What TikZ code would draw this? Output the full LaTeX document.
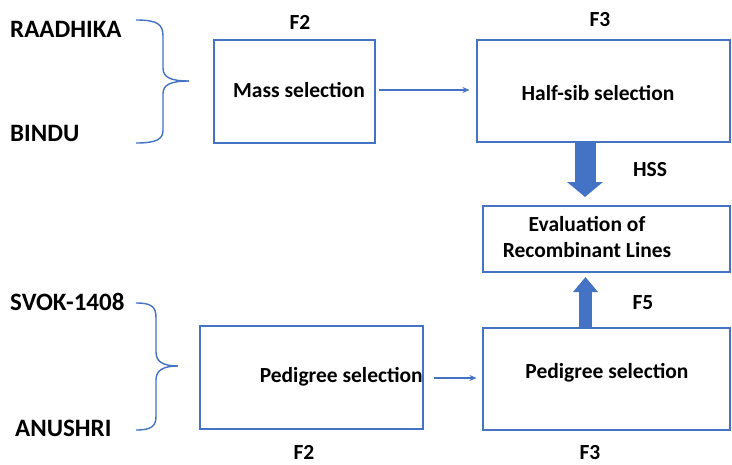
\documentclass[tikz,border=0pt]{standalone}
\usepackage{fontspec}
\setmainfont{Carlito}
\usetikzlibrary{arrows.meta}
\definecolor{bl}{HTML}{4472C4}
\begin{document}
\begin{tikzpicture}[x=1pt,y=-1pt,
  box/.style={draw=bl,line width=1.1pt,inner sep=0pt},
  txt/.style={font=\bfseries\fontsize{21.5}{25}\selectfont,inner sep=0pt,text=black},
  parentlbl/.style={font=\bfseries\fontsize{25}{29}\selectfont,inner sep=0pt,text=black},
  brace/.style={draw=bl,line width=1.4pt},
  thin arrow/.style={draw=bl,line width=1.1pt,-{Stealth[length=7pt,width=6pt]}},
  fat/.style={draw=bl,-{Triangle[width=#1]}}]
\useasboundingbox (0,0) rectangle (732,464);
% boxes
\node[box,minimum width=161pt,minimum height=103pt] (mass) at (294.5,91.5) {};
\node[txt] (masst) at (299,90) {Mass selection};
\node[box,minimum width=253pt,minimum height=102pt] (hs) at (603.5,91) {};
\node[txt] (hst) at (598,93) {Half-sib selection};
\node[box,minimum width=247pt,minimum height=66pt] (ev) at (606.5,239) {};
\node[txt,align=center] (evt) at (587,237) {Evaluation of\\[1pt]Recombinant Lines};
\node[box,minimum width=223pt,minimum height=103pt] (p1) at (311.5,377.5) {};
\node[txt,anchor=east] (p1t) at (423,377) {Pedigree selection};
\node[box,minimum width=247pt,minimum height=102pt] (p2) at (606.5,379) {};
\node[txt] (p2t) at (607,373) {Pedigree selection};
% labels
\node[parentlbl,anchor=west] (ra) at (10,29) {RAADHIKA};
\node[parentlbl,anchor=west] (bi) at (10,133) {BINDU};
\node[parentlbl,anchor=west] (sv) at (10,302) {SVOK-1408};
\node[parentlbl,anchor=west] (an) at (15,428) {ANUSHRI};
\node[txt] (f2a) at (300,22) {F2};
\node[txt] (f3a) at (600,20) {F3};
\node[txt] (hss) at (650,170) {HSS};
\node[txt] (f5) at (643,303) {F5};
\node[txt] (f2b) at (304,452) {F2};
\node[txt] (f3b) at (590,453) {F3};
% braces
\draw[brace] (136,20) .. controls (157,20) and (163,24) .. (163,36) -- (163,68)
  .. controls (163,77) and (170,81) .. (189,81);
\draw[brace] (189,81) .. controls (170,81) and (163,85) .. (163,94) -- (163,130)
  .. controls (163,139) and (157,143) .. (136,143);
\draw[brace] (136,303) .. controls (152,303) and (156,307) .. (156,318) -- (156,352)
  .. controls (156,361) and (162,366) .. (178,366);
\draw[brace] (178,366) .. controls (162,366) and (156,371) .. (156,380) -- (156,416)
  .. controls (156,426) and (152,430) .. (136,430);
% connectors
\draw[thin arrow,shorten <=3pt,shorten >=7pt] (mass.east|-0,90) -- (hs.west|-0,90);
\draw[thin arrow,shorten <=10pt,shorten >=6pt] (p1.east|-0,378) -- (p2.west|-0,378);
\coordinate (dtop) at (585,142);
\coordinate (dbot) at (585,197);
\draw[fat=35pt,line width=21pt,-{Triangle[width=35pt,length=15pt]}] (dtop) -- (dbot);
\coordinate (utop) at (585.5,277);
\coordinate (ubot) at (585.5,328);
\draw[fat=24pt,line width=13pt,-{Triangle[width=24pt,length=15pt]}] (ubot) -- (utop);
\end{tikzpicture}
\end{document}
